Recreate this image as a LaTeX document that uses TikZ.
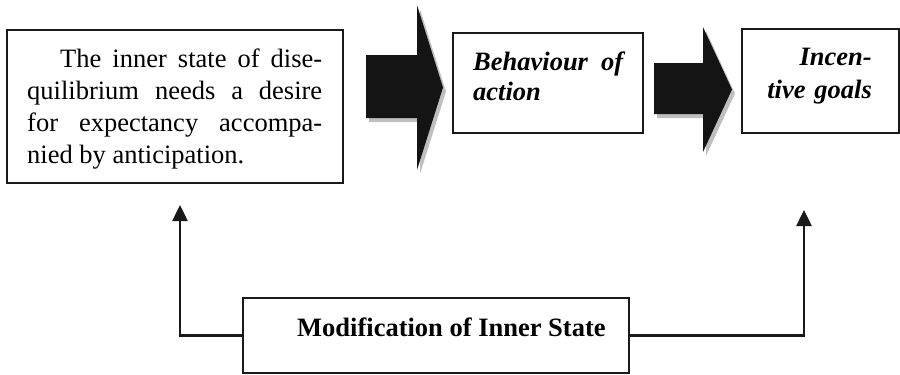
\documentclass[tikz,border=0pt]{standalone}
\usepackage{fontspec}
\setmainfont{Liberation Serif}
\usetikzlibrary{arrows.meta}
\begin{document}
\begin{tikzpicture}[x=1pt,y=-1pt,
  box/.style={draw=black!90,line width=1.8pt,rectangle,inner sep=0pt},
  txt/.style={inner sep=0pt,anchor=base west,font=\fontsize{26.5}{32}\selectfont},
  blockarrow/.style={fill=black!92},
  blockshadow/.style={fill=black!25},
  link/.style={line width=2.5pt,draw=black!90,-{Triangle[width=15pt,length=16pt]}}]
\useasboundingbox (0,0) rectangle (900,375);

% boxes
\node[box,minimum width=336pt,minimum height=153pt] (b1) at (175,106.5) {};
\node[box,minimum width=190pt,minimum height=100pt] (b2) at (548,83) {};
\node[box,minimum width=157pt,minimum height=104pt] (b3) at (820.5,81) {};
\node[box,minimum width=386pt,minimum height=75pt] (b4) at (436,335.5) {};

% texts
\node[txt,text width=295pt,align=justify] (t1) at (27,67)
  {\hspace*{33pt}The inner state of dise-\linebreak quilibrium needs a desire\linebreak for expectancy accompa-\linebreak nied by anticipation.};
\node[txt,text width=150pt,align=justify,font=\fontsize{26.5}{30}\selectfont\bfseries\itshape] (t2) at (473,70)
  {Behaviour of\linebreak action};
\node[txt,anchor=base east,text width=130pt,align=right,font=\fontsize{26.5}{33}\selectfont\bfseries\itshape] (t3) at (872,65)
  {Incen-\\tive goals};
\node[txt,font=\fontsize{26.5}{32}\selectfont\bfseries] (t4) at (297,336)
  {Modification of Inner State};

% block arrows
\fill[blockshadow,shift={(3,4)}] (366,55) -- (417,55) -- (417,5) -- (443,87.5) -- (417,170) -- (417,118) -- (366,118) -- cycle;
\fill[blockarrow] (366,55) -- (417,55) -- (417,5) -- (443,87.5) -- (417,170) -- (417,118) -- (366,118) -- cycle;
\fill[blockshadow,shift={(3,4)}] (654,63) -- (703,63) -- (703,27) -- (732,89.5) -- (703,152) -- (703,114) -- (654,114) -- cycle;
\fill[blockarrow] (654,63) -- (703,63) -- (703,27) -- (732,89.5) -- (703,152) -- (703,114) -- (654,114) -- cycle;

% feedback connectors
\coordinate (lt) at (180,205);
\coordinate (rt) at (804,210);
\draw[link] (b4.west) -| (lt);
\draw[link] (b4.east) -| (rt);
\end{tikzpicture}
\end{document}
